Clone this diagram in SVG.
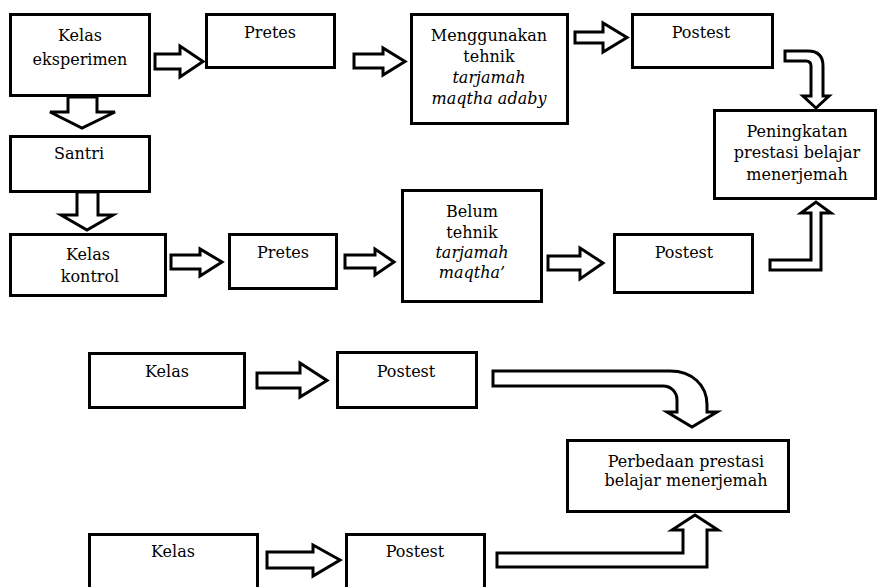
<svg xmlns="http://www.w3.org/2000/svg" width="878" height="587" viewBox="0 0 878 587">
<style>
.box{fill:#fff;stroke:#000;stroke-width:3}
.arr{fill:#fff;stroke:#000;stroke-width:3;stroke-linejoin:miter}
text{font-family:"DejaVu Serif","Liberation Serif",serif;font-size:16px;fill:#000;text-anchor:middle}
.it{font-style:italic}
</style>
<rect width="878" height="587" fill="#fff"/>
<g id="connectors">
<polygon class="arr" points="155,54 180,54 180,46 203,61.5 180,77 180,69 155,69"/>
<polygon class="arr" points="68,97 97,97 97,112 115,112 82,128 50,112 68,112"/>
<polygon class="arr" points="77,192 98,192 98,215 113,215 87,230 61,215 77,215"/>
<polygon class="arr" points="354,54 383,54 383,48 405,61.5 383,75 383,68 354,68"/>
<polygon class="arr" points="575,32 603,32 603,23 627,37.5 603,52 603,43 575,43"/>
<path class="arr" d="M785,51 L808,51 Q823,51 823,66 L823,96 L829,96 L816,108 L803,96 L811,96 L811,66 Q811,61 806,61 L785,61 Z"/>
<path class="arr" d="M770,260 L811,260 L811,213 L801,213 L816,202 L831,213 L821,213 L821,270 L770,270 Z"/>
<polygon class="arr" points="171,255 200,255 200,249 222,262 200,276 200,269 171,269"/>
<polygon class="arr" points="345,255 375,255 375,249 394,262 375,275 375,268 345,268"/>
<polygon class="arr" points="548,256 580,256 580,248 603,263 580,279 580,270 548,270"/>
<polygon class="arr" points="257,373 300,373 300,363 327,380.5 300,397 300,388 257,388"/>
<path class="arr" d="M493,371 L670,371 C692,371 707,385 707,405 L707,412 L717,412 L692,427 L667,412 L677,412 L677,400 C677,392 671,386 663,386 L493,386 Z"/>
<path class="arr" d="M497,553 L683,553 L683,530 L672,530 L695,515 L718,530 L707,530 L707,567 L497,567 Z"/>
<polygon class="arr" points="267,552 313,552 313,545 340,560 313,576 313,568 267,568"/>
</g>
<g id="kelas-eksperimen"><rect class="box" x="10.5" y="14.5" width="139" height="81"/><text x="80" y="41">Kelas</text><text x="80" y="65">eksperimen</text></g>
<g id="pretes-1"><rect class="box" x="206.5" y="14.5" width="128" height="53"/><text x="270" y="38">Pretes</text></g>
<g id="menggunakan"><rect class="box" x="411.5" y="14.5" width="156" height="109"/><text x="489" y="41">Menggunakan</text><text x="489" y="62">tehnik</text><text class="it" x="489" y="83">tarjamah</text><text class="it" x="489" y="104">maqtha adaby</text></g>
<g id="postest-1"><rect class="box" x="632.5" y="14.5" width="140" height="53"/><text x="701" y="38">Postest</text></g>
<g id="peningkatan"><rect class="box" x="714.5" y="110.5" width="161" height="88"/><text x="797" y="137">Peningkatan</text><text x="797" y="158">prestasi belajar</text><text x="797" y="180">menerjemah</text></g>
<g id="santri"><rect class="box" x="10.5" y="136.5" width="139" height="55"/><text x="79" y="159">Santri</text></g>
<g id="kelas-kontrol"><rect class="box" x="10.5" y="234.5" width="155" height="61"/><text x="88" y="260">Kelas</text><text x="90" y="282">kontrol</text></g>
<g id="pretes-2"><rect class="box" x="229.5" y="234.5" width="107" height="54"/><text x="283" y="258">Pretes</text></g>
<g id="belum"><rect class="box" x="402.5" y="190.5" width="139" height="111"/><text x="472" y="217">Belum</text><text x="472" y="238">tehnik</text><text class="it" x="472" y="258">tarjamah</text><text class="it" x="472" y="278">maqtha’</text></g>
<g id="postest-2"><rect class="box" x="614.5" y="234.5" width="138" height="58"/><text x="684" y="258">Postest</text></g>
<g id="kelas-a"><rect class="box" x="89.5" y="353.5" width="155" height="54"/><text x="167" y="377">Kelas</text></g>
<g id="postest-a"><rect class="box" x="337.5" y="352.5" width="139" height="55"/><text x="406" y="377">Postest</text></g>
<g id="perbedaan"><rect class="box" x="567.5" y="440.5" width="221" height="71"/><text x="686" y="467">Perbedaan prestasi</text><text x="686" y="486">belajar menerjemah</text></g>
<g id="kelas-b"><rect class="box" x="89.5" y="534.5" width="168" height="70"/><text x="173" y="557">Kelas</text></g>
<g id="postest-b"><rect class="box" x="346.5" y="534.5" width="138" height="70"/><text x="415" y="557">Postest</text></g>
</svg>
